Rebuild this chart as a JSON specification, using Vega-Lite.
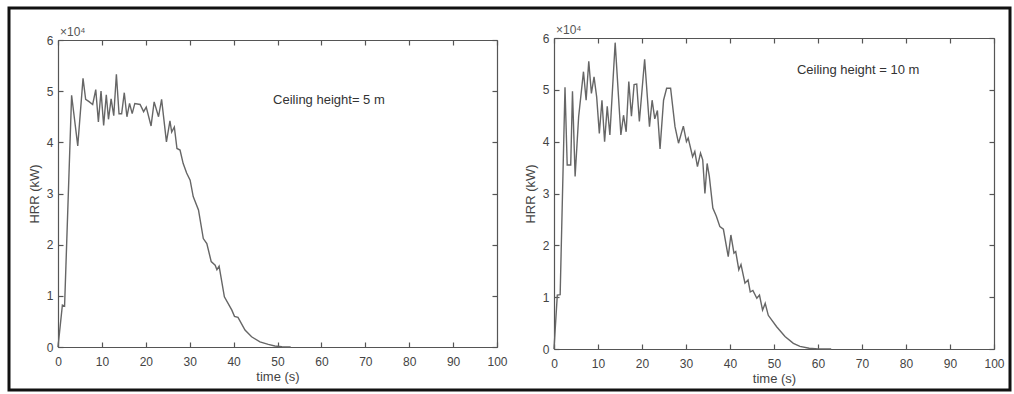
{
  "$schema": "https://vega.github.io/schema/vega-lite/v6.json",
  "width": 1001,
  "height": 382,
  "autosize": {"type": "none"},
  "padding": {"left": 9, "top": 8, "right": 4, "bottom": 4},
  "background": "white",
  "config": {
    "view": {"stroke": "#111111", "strokeWidth": 3},
    "font": "Liberation Sans",
    "axis": {
      "grid": false,
      "domainColor": "#555555",
      "domainWidth": 1.2,
      "tickColor": "#555555",
      "tickWidth": 1.2,
      "labelColor": "#444444",
      "labelFont": "Liberation Sans",
      "labelFontSize": 12,
      "labelFlush": false,
      "labelOverlap": false,
      "titleColor": "#444444",
      "titleFont": "Liberation Sans",
      "titleFontSize": 13,
      "titleFontWeight": "normal"
    }
  },
  "datasets": {
    "h5": [
      {"t": 0, "hrr": 0}, {"t": 1.0, "hrr": 8200}, {"t": 1.5, "hrr": 8000},
      {"t": 3.1, "hrr": 49200}, {"t": 4.5, "hrr": 39300}, {"t": 5.7, "hrr": 52500},
      {"t": 6.3, "hrr": 48400}, {"t": 7.0, "hrr": 48000}, {"t": 7.9, "hrr": 47400},
      {"t": 8.6, "hrr": 50300}, {"t": 9.2, "hrr": 44000}, {"t": 9.8, "hrr": 50000},
      {"t": 10.4, "hrr": 43300}, {"t": 11.0, "hrr": 49300}, {"t": 11.5, "hrr": 44500},
      {"t": 12.1, "hrr": 48500}, {"t": 12.7, "hrr": 45200}, {"t": 13.3, "hrr": 53300},
      {"t": 13.9, "hrr": 45600}, {"t": 14.5, "hrr": 45600}, {"t": 15.1, "hrr": 49700},
      {"t": 15.7, "hrr": 45000}, {"t": 16.3, "hrr": 47600}, {"t": 16.9, "hrr": 45600},
      {"t": 17.5, "hrr": 47600}, {"t": 18.7, "hrr": 47400}, {"t": 19.5, "hrr": 46000},
      {"t": 20.1, "hrr": 46900}, {"t": 21.2, "hrr": 43200}, {"t": 21.9, "hrr": 47900},
      {"t": 22.9, "hrr": 45000}, {"t": 23.6, "hrr": 48400}, {"t": 24.7, "hrr": 40100},
      {"t": 25.5, "hrr": 44200}, {"t": 25.9, "hrr": 42000}, {"t": 26.5, "hrr": 43000},
      {"t": 27.1, "hrr": 38800}, {"t": 27.8, "hrr": 38500}, {"t": 28.5, "hrr": 35900},
      {"t": 29.3, "hrr": 34000}, {"t": 30.1, "hrr": 32600}, {"t": 30.8, "hrr": 29400},
      {"t": 32.0, "hrr": 26800}, {"t": 33.1, "hrr": 21200}, {"t": 33.9, "hrr": 20200},
      {"t": 34.9, "hrr": 16700}, {"t": 35.8, "hrr": 16000}, {"t": 36.2, "hrr": 15100},
      {"t": 36.7, "hrr": 15800}, {"t": 37.9, "hrr": 9800}, {"t": 39.6, "hrr": 7200},
      {"t": 40.2, "hrr": 6000}, {"t": 41.0, "hrr": 5800}, {"t": 42.6, "hrr": 3300},
      {"t": 44.1, "hrr": 2000}, {"t": 46.0, "hrr": 1000}, {"t": 47.9, "hrr": 500},
      {"t": 49.4, "hrr": 200}, {"t": 51.0, "hrr": 60}, {"t": 53.0, "hrr": 0}
    ],
    "h10": [
      {"t": 0, "hrr": 0}, {"t": 0.75, "hrr": 10400}, {"t": 1.4, "hrr": 10500},
      {"t": 2.5, "hrr": 50500}, {"t": 3.0, "hrr": 35500}, {"t": 3.8, "hrr": 35500},
      {"t": 4.2, "hrr": 49700}, {"t": 4.8, "hrr": 33300}, {"t": 5.6, "hrr": 44800},
      {"t": 6.7, "hrr": 53500}, {"t": 7.3, "hrr": 48000}, {"t": 7.9, "hrr": 55500},
      {"t": 8.5, "hrr": 49300}, {"t": 9.1, "hrr": 52500}, {"t": 9.7, "hrr": 48600},
      {"t": 10.3, "hrr": 41600}, {"t": 10.9, "hrr": 48000}, {"t": 11.5, "hrr": 40000},
      {"t": 12.1, "hrr": 46800}, {"t": 12.7, "hrr": 41300}, {"t": 13.9, "hrr": 59100},
      {"t": 15.2, "hrr": 41300}, {"t": 15.8, "hrr": 45100}, {"t": 16.4, "hrr": 41900},
      {"t": 17.0, "hrr": 51600}, {"t": 17.6, "hrr": 44900}, {"t": 18.2, "hrr": 51000},
      {"t": 18.8, "hrr": 51100}, {"t": 19.4, "hrr": 43900}, {"t": 20.6, "hrr": 55900},
      {"t": 21.7, "hrr": 42900}, {"t": 22.3, "hrr": 48000}, {"t": 22.9, "hrr": 44400},
      {"t": 23.5, "hrr": 46000}, {"t": 24.1, "hrr": 38600}, {"t": 24.9, "hrr": 48000},
      {"t": 25.6, "hrr": 50300}, {"t": 26.5, "hrr": 50300}, {"t": 27.5, "hrr": 42900},
      {"t": 28.3, "hrr": 39700}, {"t": 29.4, "hrr": 43000}, {"t": 30.1, "hrr": 40000},
      {"t": 30.5, "hrr": 40700}, {"t": 31.5, "hrr": 37100}, {"t": 32.0, "hrr": 38100},
      {"t": 32.6, "hrr": 35200}, {"t": 33.3, "hrr": 37800}, {"t": 33.8, "hrr": 36500},
      {"t": 34.3, "hrr": 30000}, {"t": 34.8, "hrr": 35800}, {"t": 35.3, "hrr": 33300},
      {"t": 36.1, "hrr": 27200}, {"t": 36.9, "hrr": 25600}, {"t": 37.7, "hrr": 23600},
      {"t": 38.5, "hrr": 23100}, {"t": 39.6, "hrr": 17800}, {"t": 40.2, "hrr": 22000},
      {"t": 40.9, "hrr": 18500}, {"t": 41.3, "hrr": 18800}, {"t": 42.0, "hrr": 15300},
      {"t": 42.5, "hrr": 16300}, {"t": 43.4, "hrr": 12700}, {"t": 44.1, "hrr": 13300},
      {"t": 44.6, "hrr": 11000}, {"t": 45.2, "hrr": 11300}, {"t": 46.1, "hrr": 9800},
      {"t": 46.7, "hrr": 10400}, {"t": 47.4, "hrr": 7500}, {"t": 48.0, "hrr": 8800},
      {"t": 48.7, "hrr": 6500}, {"t": 50.6, "hrr": 4300}, {"t": 52.5, "hrr": 2400},
      {"t": 54.4, "hrr": 1100}, {"t": 55.9, "hrr": 500}, {"t": 58.0, "hrr": 150},
      {"t": 60.0, "hrr": 30}, {"t": 63.0, "hrr": 0}
    ],
    "single": [{}]
  },
  "layer": [
    {
      "layer": [
        {
          "data": {"name": "h5"},
          "mark": {"type": "line", "color": "#666666", "strokeWidth": 1.4},
          "encoding": {
            "x": {
              "field": "t", "type": "quantitative",
              "scale": {"domain": [0, 100], "range": [49, 488]},
              "axis": {
                "orient": "bottom", "offset": -43, "title": "time (s)",
                "values": [0, 10, 20, 30, 40, 50, 60, 70, 80, 90, 100],
                "tickSize": -5, "labelPadding": 14, "titlePadding": 3
              }
            },
            "y": {
              "field": "hrr", "type": "quantitative",
              "scale": {"domain": [0, 60000], "range": [339, 32]},
              "axis": {
                "orient": "left", "offset": -49, "title": "HRR (kW)",
                "values": [0, 10000, 20000, 30000, 40000, 50000, 60000],
                "labelExpr": "datum.value / 10000",
                "tickSize": -5, "labelPadding": 10, "titlePadding": 5
              }
            }
          }
        },
        {
          "data": {"name": "single"},
          "mark": {"type": "text", "align": "left", "baseline": "middle", "fontSize": 13, "color": "#333333"},
          "encoding": {
            "x": {
              "datum": 49, "type": "quantitative",
              "axis": {
                "orient": "top", "offset": -32, "title": null, "labels": false,
                "values": [0, 10, 20, 30, 40, 50, 60, 70, 80, 90, 100], "tickSize": -5
              }
            },
            "y": {
              "datum": 48300, "type": "quantitative",
              "axis": {
                "orient": "right", "offset": -513, "title": null, "labels": false,
                "values": [0, 10000, 20000, 30000, 40000, 50000, 60000], "tickSize": -5
              }
            },
            "text": {"value": "Ceiling height= 5 m"}
          }
        },
        {
          "data": {"name": "single"},
          "mark": {"type": "text", "align": "left", "baseline": "bottom", "fontSize": 12, "color": "#555555", "dx": 2, "dy": -1},
          "encoding": {
            "x": {"datum": 0, "type": "quantitative", "axis": null},
            "y": {"datum": 60000, "type": "quantitative", "axis": null},
            "text": {"value": "×10⁴"}
          }
        }
      ]
    },
    {
      "layer": [
        {
          "data": {"name": "h10"},
          "mark": {"type": "line", "color": "#666666", "strokeWidth": 1.4},
          "encoding": {
            "x": {
              "field": "t", "type": "quantitative",
              "scale": {"domain": [0, 100], "range": [545, 985]},
              "axis": {
                "orient": "bottom", "offset": -41, "title": "time (s)",
                "values": [0, 10, 20, 30, 40, 50, 60, 70, 80, 90, 100],
                "tickSize": -5, "labelPadding": 14, "titlePadding": 3
              }
            },
            "y": {
              "field": "hrr", "type": "quantitative",
              "scale": {"domain": [0, 60000], "range": [341, 30]},
              "axis": {
                "orient": "left", "offset": -545, "title": "HRR (kW)",
                "values": [0, 10000, 20000, 30000, 40000, 50000, 60000],
                "labelExpr": "datum.value / 10000",
                "tickSize": -5, "labelPadding": 10, "titlePadding": 5
              }
            }
          }
        },
        {
          "data": {"name": "single"},
          "mark": {"type": "text", "align": "left", "baseline": "middle", "fontSize": 13, "color": "#333333"},
          "encoding": {
            "x": {
              "datum": 55.2, "type": "quantitative",
              "axis": {
                "orient": "top", "offset": -30, "title": null, "labels": false,
                "values": [0, 10, 20, 30, 40, 50, 60, 70, 80, 90, 100], "tickSize": -5
              }
            },
            "y": {
              "datum": 53800, "type": "quantitative",
              "axis": {
                "orient": "right", "offset": -16, "title": null, "labels": false,
                "values": [0, 10000, 20000, 30000, 40000, 50000, 60000], "tickSize": -5
              }
            },
            "text": {"value": "Ceiling height = 10 m"}
          }
        },
        {
          "data": {"name": "single"},
          "mark": {"type": "text", "align": "left", "baseline": "bottom", "fontSize": 12, "color": "#555555", "dx": 2, "dy": -1},
          "encoding": {
            "x": {"datum": 0, "type": "quantitative", "axis": null},
            "y": {"datum": 60000, "type": "quantitative", "axis": null},
            "text": {"value": "×10⁴"}
          }
        }
      ]
    }
  ],
  "resolve": {
    "scale": {"x": "independent", "y": "independent"},
    "axis": {"x": "independent", "y": "independent"}
  }
}
